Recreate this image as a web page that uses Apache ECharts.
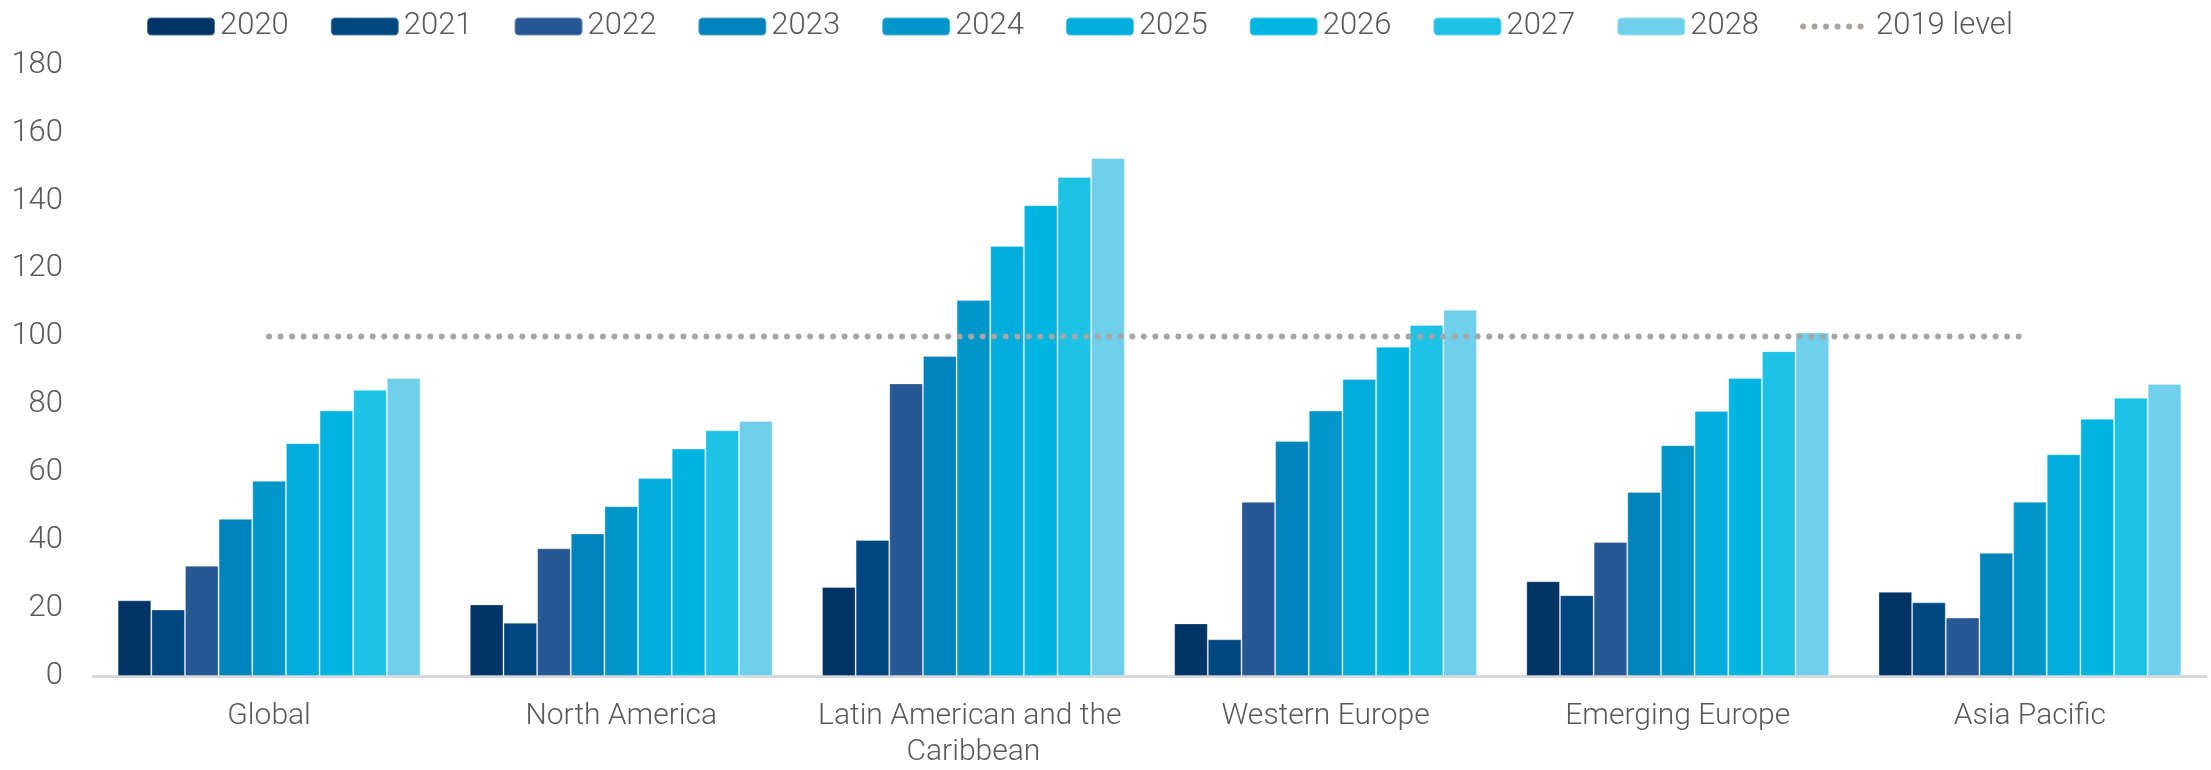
<!DOCTYPE html>
<html>
<head>
<meta charset="utf-8">
<script src="https://cdn.jsdelivr.net/npm/echarts@6/dist/echarts.min.js"></script>
<style>
  html, body { margin: 0; padding: 0; background: #fff; }
  #chart_wrap { width: 2211px; height: 770px; }
</style>
</head>
<body>
<div id="chart_wrap"></div>
<script>
// regions on the x axis
const regions = ['Global', 'North America', 'Latin American and the Caribbean', 'Western Europe', 'Emerging Europe', 'Asia Pacific']
const years = ['2020', '2021', '2022', '2023', '2024', '2025', '2026', '2027', '2028']

// values per year, one per region
const y2020 = [22.3, 21.1, 26.2, 15.5, 27.9, 24.8]
const y2021 = [19.6, 15.7, 40.1, 10.8, 23.8, 21.7]
const y2022 = [32.5, 37.6, 86.2, 51.3, 39.5, 17.2]
const y2023 = [46.3, 42.0, 94.3, 69.2, 54.2, 36.3]
const y2024 = [57.5, 50.0, 110.8, 78.2, 68.0, 51.3]
const y2025 = [68.6, 58.3, 126.7, 87.5, 78.1, 65.3]
const y2026 = [78.2, 67.0, 138.7, 97.0, 87.8, 75.8]
const y2027 = [84.3, 72.4, 147.0, 103.4, 95.7, 82.0]
const y2028 = [87.8, 75.1, 152.6, 107.9, 101.2, 86.0]
const level2019 = [100, 100, 100, 100, 100, 100]

const yearValues = [y2020, y2021, y2022, y2023, y2024, y2025, y2026, y2027, y2028]
const colors = ['#023365', '#004680', '#285893', '#0083bb', '#0096c9', '#00acdc', '#00b6e0', '#1ec2e5', '#70cfea']

const textColor = '#595959'
const font = 'Roboto'

let chart = echarts.init(document.getElementById('chart_wrap'))

let series = yearValues.map(function (vals, i) {
  return {
    name: years[i],
    type: 'bar',
    barGap: '0%',
    barCategoryGap: '14%',
    itemStyle: {
      color: colors[i],
      borderColor: 'rgba(255,255,255,0.3)',
      borderWidth: 1
    },
    data: vals
  }
})

series.push({
  name: '2019 level',
  type: 'line',
  symbol: 'none',
  data: level2019,
  z: 5,
  lineStyle: {
    color: '#a6a6a6',
    width: 6,
    type: [0.01, 11.5],
    cap: 'round'
  },
  itemStyle: { color: '#a6a6a6' }
})

let legendData = years.map(function (y) { return { name: y } })
legendData.push({
  name: '2019 level',
  itemStyle: { opacity: 0 },
  lineStyle: { color: '#a8a39e', width: 6, type: [0.01, 11.5], cap: 'round' }
})

chart.setOption({
  animation: false,
  textStyle: { fontFamily: font, fontWeight: 300, color: textColor },
  legend: {
    top: 6,
    left: 141,
    itemWidth: 68,
    itemHeight: 18,
    itemGap: 41,
    data: legendData,
    textStyle: { fontFamily: font, fontWeight: 300, fontSize: 31, color: textColor }
  },
  grid: {
    left: 93,
    right: 5,
    top: 65,
    bottom: 93
  },
  xAxis: {
    type: 'category',
    data: regions,
    axisTick: { show: false },
    axisLine: { lineStyle: { color: '#d9d9d9', width: 3 } },
    axisLabel: {
      margin: 22,
      interval: 0,
      width: 340,
      overflow: 'break',
      lineHeight: 36,
      fontFamily: font,
      fontWeight: 300,
      fontSize: 30,
      color: textColor
    }
  },
  yAxis: {
    type: 'value',
    min: 0,
    max: 180,
    interval: 20,
    splitLine: { show: false },
    axisLine: { show: false },
    axisTick: { show: false },
    axisLabel: {
      margin: 30,
      fontFamily: font,
      fontWeight: 300,
      fontSize: 31,
      color: textColor
    }
  },
  series: series
})
</script>
</body>
</html>
